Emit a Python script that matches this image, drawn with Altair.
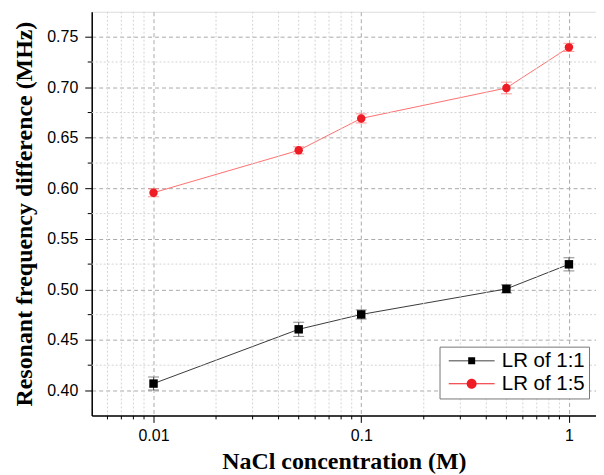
import altair as alt
import pandas as pd

conc = [0.01, 0.05, 0.1, 0.5, 1.0]
lr11 = [0.4068, 0.4605, 0.4752, 0.5005, 0.5248]
lr11_err = [0.0064, 0.0070, 0.0045, 0.0040, 0.0065]
lr15 = [0.5957, 0.6376, 0.6692, 0.6993, 0.7395]
lr15_err = [0.0040, 0.0035, 0.0045, 0.0058, 0.0040]
series_names = ["LR of 1:1", "LR of 1:5"]

x_major = [0.01, 0.1, 1]
x_minor = [0.006, 0.007, 0.008, 0.009, 0.02, 0.03, 0.04, 0.05, 0.06, 0.07, 0.08, 0.09,
           0.2, 0.3, 0.4, 0.5, 0.6, 0.7, 0.8, 0.9]
y_major = [0.40, 0.45, 0.50, 0.55, 0.60, 0.65, 0.70, 0.75]
y_minor = [0.425, 0.475, 0.525, 0.575, 0.625, 0.675, 0.725]

x_title = "NaCl concentration (M)"
y_title = "Resonant frequency difference (MHz)"

rows = []
for name, vals, errs in [(series_names[0], lr11, lr11_err), (series_names[1], lr15, lr15_err)]:
    for c, v, e in zip(conc, vals, errs):
        rows.append({"conc": c, "value": v, "err": e, "series": name, "label": name})
df = pd.DataFrame(rows)
dfx = pd.DataFrame({"conc": x_minor})
dfy = pd.DataFrame({"value": y_minor})

W, H = 506, 405
xscale = alt.Scale(type="log", domain=[0.00504, 1.35], nice=False)
yscale = alt.Scale(domain=[0.3753, 0.7747], nice=False, zero=False)
marker_colors = ["#000000", "#ee1c25"]
line_colors = ["#3a3a3a", "#ff7070"]
err_colors = ["#555555", "#ff6a6a"]

main_x = alt.X("conc:Q", scale=xscale, title=x_title, axis=alt.Axis(
    values=x_major, format="~g", title=x_title,
    grid=True, gridDash=[4, 3], gridColor="#aaaaaa", gridWidth=1,
    tickSize=7, tickColor="black", tickWidth=1, domainColor="black", domainWidth=1.5,
    labelFont="Liberation Sans", labelFontSize=16, labelColor="black", labelPadding=5,
    titleFont="Liberation Serif", titleFontSize=24, titleFontWeight="bold",
    titleColor="black", titlePadding=6))
main_y = alt.Y("value:Q", scale=yscale, title=y_title, axis=alt.Axis(
    values=y_major, format=".2f", title=y_title,
    grid=True, gridDash=[4, 3], gridColor="#aaaaaa", gridWidth=1,
    tickSize=7, tickColor="black", tickWidth=1, domainColor="black", domainWidth=1.5,
    labelFont="Liberation Sans", labelFontSize=16, labelColor="black", labelPadding=7,
    titleFont="Liberation Serif", titleFontSize=24, titleFontWeight="bold",
    titleColor="black", titlePadding=10))

base = alt.Chart(df)

lines = base.mark_line(strokeWidth=1).encode(
    x=main_x, y=main_y,
    color=alt.Color("series:N", scale=alt.Scale(domain=series_names, range=line_colors), legend=None),
    detail="series:N",
)

xgrid = alt.Chart(dfx).mark_rule(strokeDash=[2, 2], color="#d4d4d4", strokeWidth=1).encode(
    x=alt.X("conc:Q", scale=xscale, title=x_title))
ygrid = alt.Chart(dfy).mark_rule(strokeDash=[2, 2], color="#d4d4d4", strokeWidth=1).encode(
    y=alt.Y("value:Q", scale=yscale, title=y_title))
xticks = alt.Chart(dfx).mark_rule(color="black", strokeWidth=1).encode(
    x=alt.X("conc:Q", scale=xscale, title=x_title), y=alt.value(H), y2=alt.value(H + 4))
yticks = alt.Chart(dfy).mark_rule(color="black", strokeWidth=1).encode(
    y=alt.Y("value:Q", scale=yscale, title=y_title), x=alt.value(-4), x2=alt.value(0))

errs = base.mark_errorbar(ticks={"size": 11, "thickness": 1}, thickness=1).encode(
    x=alt.X("conc:Q", scale=xscale, title=x_title),
    y=alt.Y("value:Q", scale=yscale, title=y_title),
    yError="err:Q",
    color=alt.Color("series:N", scale=alt.Scale(domain=series_names, range=err_colors), legend=None),
)

points = base.mark_point(filled=True, opacity=1).encode(
    x=alt.X("conc:Q", scale=xscale, title=x_title),
    y=alt.Y("value:Q", scale=yscale, title=y_title),
    shape=alt.Shape("series:N", scale=alt.Scale(domain=series_names, range=["square", "circle"]), legend=None),
    size=alt.Size("series:N", scale=alt.Scale(domain=series_names, range=[72, 72]), legend=None),
    fill=alt.Fill("series:N", scale=alt.Scale(domain=series_names, range=marker_colors), legend=None),
)

# legend symbols: line + marker as custom paths (unit = sqrt(size)/2 = 5px)
sq_path = ("M-1,-0.09L8.2,-0.09L8.2,0.09L-1,0.09Z "
           "M2.9,-0.7L4.3,-0.7L4.3,0.7L2.9,0.7Z")
ci_path = ("M-1,-0.09L8.2,-0.09L8.2,0.09L-1,0.09Z "
           "M4.6,0A1,1 0 1,1 2.6,0A1,1 0 1,1 4.6,0Z")

legend_layer = base.mark_point(filled=True, opacity=0).encode(
    x=alt.X("conc:Q", scale=xscale, title=x_title),
    y=alt.Y("value:Q", scale=yscale, title=y_title),
    shape=alt.Shape("label:N", scale=alt.Scale(domain=series_names, range=[sq_path, ci_path]),
                    legend=alt.Legend(title=None, orient="none", legendX=349, legendY=336,
                                      fillColor="white", strokeColor="#777777", padding=4,
                                      symbolSize=100, symbolOpacity=1, symbolStrokeWidth=0,
                                      labelFont="Liberation Sans", labelFontSize=20.5,
                                      labelColor="black", labelOffset=38, rowPadding=2)),
    color=alt.Color("label:N", scale=alt.Scale(domain=series_names, range=marker_colors)),
)

chart = alt.layer(lines, xgrid, ygrid, xticks, yticks, errs, points, legend_layer).resolve_scale(
    shape="independent", color="independent", fill="independent", size="independent"
).properties(
    width=W, height=H,
    autosize=alt.AutoSizeParams(type="none"),
    padding={"left": 84, "top": 3, "right": 0, "bottom": 59},
).configure_view(stroke="black", strokeWidth=1.5).configure(background="white")

chart.save("out.html", embed_options={"renderer": "svg", "actions": False})
